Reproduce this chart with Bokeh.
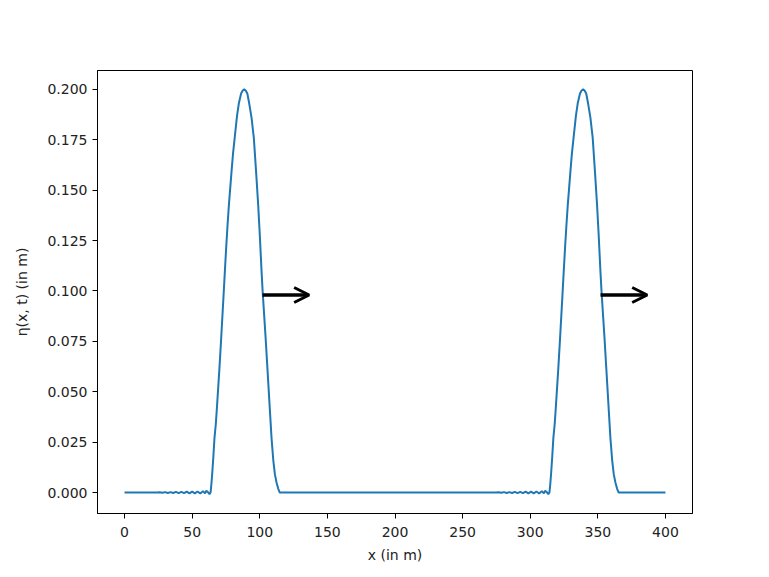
from bokeh.plotting import figure
from bokeh.models import ColumnDataSource, Arrow, OpenHead, FixedTicker, NumeralTickFormatter, Range1d
from bokeh.embed import file_html
from bokeh.resources import INLINE

# surface elevation eta(x, t)
x_m = [
    0, 10, 20, 24, 26, 28, 30, 32, 34, 36, 38, 40, 42, 44, 46, 48, 50, 52, 54, 56, 58, 59.5, 60.5, 61.7, 62.8,
    63.6, 64.2, 64.9, 65.7, 66.5, 67.5, 68.5, 70.2, 71.5, 73.4, 74.2, 75.2, 76.2, 77.2, 79.2, 80.2, 81.6,
    83.2, 84.5, 86.2, 87.4, 88.5, 89.6, 90.8, 92.2, 93.9, 95.6, 97.2, 98.8, 100.0, 101.3, 102.1, 104.3,
    105.8, 107.2, 108.7, 110.0, 111.2, 112.4, 113.6, 114.8, 120, 150, 200, 250, 270,
    274.6, 276.6, 278.6, 280.6, 282.6, 284.6, 286.6, 288.6, 290.6, 292.6, 294.6, 296.6, 298.6, 300.6,
    302.6, 304.6, 306.6, 308.6, 310.1, 311.1, 312.3, 313.4,
    314.2, 314.8, 315.5, 316.3, 317.1, 318.1, 319.1, 320.8, 322.1, 324.0, 324.8, 325.8, 326.8, 327.8,
    329.8, 330.8, 332.2, 333.8, 335.1, 336.8, 338.0, 339.1, 340.2, 341.4, 342.8, 344.5, 346.2, 347.8,
    349.4, 350.6, 351.9, 352.7, 354.9, 356.4, 357.8, 359.3, 360.6, 361.8, 363.0, 364.2, 365.4, 370, 380,
    390, 400,
]
eta_m = [
    0, 0, 0, 0, 0.0001, -0.0001, 0.0002, -0.0002, 0.0002, -0.0002, 0.0003, -0.0003, 0.0003, -0.0003,
    0.0004, -0.0004, 0.0004, -0.0004, 0.0005, -0.0005, 0.0007, -0.0004, 0.0009, 0.0002, -0.0008,
    0.000, 0.004, 0.010, 0.018, 0.027, 0.034, 0.044, 0.062, 0.077, 0.100, 0.110, 0.122, 0.133, 0.143,
    0.160, 0.168, 0.177, 0.187, 0.193, 0.198, 0.1995, 0.200, 0.1995, 0.198, 0.193, 0.186, 0.176, 0.160,
    0.143, 0.128, 0.110, 0.100, 0.077, 0.060, 0.044, 0.027, 0.016, 0.009, 0.005, 0.002, 0.000,
    0, 0, 0, 0, 0,
    0, 0.0001, -0.0001, 0.0002, -0.0002, 0.0002, -0.0002, 0.0003, -0.0003, 0.0003, -0.0003, 0.0004,
    -0.0004, 0.0004, -0.0004, 0.0005, -0.0005, 0.0007, -0.0004, 0.0009, 0.0002, -0.0008,
    0.000, 0.004, 0.010, 0.018, 0.027, 0.034, 0.044, 0.062, 0.077, 0.100, 0.110, 0.122, 0.133, 0.143,
    0.160, 0.168, 0.177, 0.187, 0.193, 0.198, 0.1995, 0.200, 0.1995, 0.198, 0.193, 0.186, 0.176, 0.160,
    0.143, 0.128, 0.110, 0.100, 0.077, 0.060, 0.044, 0.027, 0.016, 0.009, 0.005, 0.002, 0.000, 0, 0,
    0, 0,
]

# propagation arrows
arrow_x_start = [102.0, 352.0]
arrow_x_end = [136.5, 386.5]
arrow_y = [0.098, 0.098]

x_ticks = [0, 50, 100, 150, 200, 250, 300, 350, 400]
y_ticks = [0.0, 0.025, 0.05, 0.075, 0.1, 0.125, 0.15, 0.175, 0.2]

p = figure(
    width=760, height=568, output_backend="svg", toolbar_location=None,
    x_range=Range1d(-20, 420), y_range=Range1d(-0.0104, 0.2094),
    min_border_left=97, min_border_right=68, min_border_top=70, min_border_bottom=55,
)
p.background_fill_color = "white"
p.border_fill_color = "white"
p.outline_line_color = "black"
p.outline_line_width = 1
p.outline_line_alpha = 1
p.xgrid.visible = False
p.ygrid.visible = False

p.line(x_m, eta_m, line_color="#1f77b4", line_width=2)

src = ColumnDataSource(dict(x0=arrow_x_start, x1=arrow_x_end, y=arrow_y))
p.add_layout(Arrow(
    end=OpenHead(line_color="black", line_width=3, size=15),
    x_start="x0", y_start="y", x_end="x1", y_end="y", source=src,
    line_color="black", line_width=3.5,
))

for ax in (p.xaxis[0], p.yaxis[0]):
    ax.major_label_text_font = "DejaVu Sans"
    ax.major_label_text_font_size = "14px"
    ax.major_label_text_color = "#222222"
    ax.axis_label_text_font = "DejaVu Sans"
    ax.axis_label_text_font_size = "14px"
    ax.axis_label_text_font_style = "normal"
    ax.axis_label_text_color = "#222222"
    ax.major_tick_out = 5
    ax.major_tick_in = 0
    ax.minor_tick_out = 0
    ax.minor_tick_in = 0
    ax.axis_line_color = "black"
    ax.major_tick_line_color = "black"

p.xaxis.ticker = FixedTicker(ticks=x_ticks)
p.yaxis.ticker = FixedTicker(ticks=y_ticks)
p.yaxis.formatter = NumeralTickFormatter(format="0.000")
p.xaxis.axis_label = "x (in m)"
p.yaxis.axis_label = "η(x, t) (in m)"
p.xaxis.major_label_standoff = 8
p.yaxis.major_label_standoff = 5
p.xaxis.axis_label_standoff = 7
p.yaxis.axis_label_standoff = 14

open("out.html", "w").write(file_html(p, INLINE))
